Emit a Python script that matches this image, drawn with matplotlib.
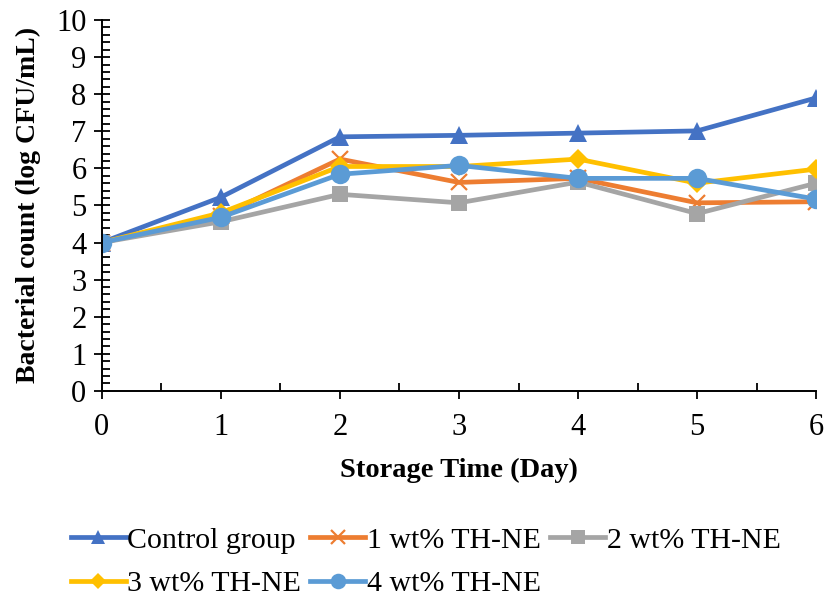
import matplotlib.pyplot as plt
from matplotlib.ticker import MultipleLocator

plt.rcParams["font.family"] = ["Liberation Serif", "DejaVu Serif"]

days = [0, 1, 2, 3, 4, 5, 6]
control = [4.0, 5.22, 6.85, 6.89, 6.95, 7.01, 7.9]
th_ne_1 = [4.0, 4.72, 6.25, 5.62, 5.73, 5.07, 5.1]
th_ne_2 = [4.0, 4.56, 5.3, 5.07, 5.63, 4.78, 5.6]
th_ne_3 = [4.0, 4.8, 6.05, 6.05, 6.25, 5.6, 5.98]
th_ne_4 = [4.0, 4.68, 5.84, 6.08, 5.73, 5.73, 5.17]

series = [
    ("Control group", control, "#4472C4", "^"),
    ("1 wt% TH-NE", th_ne_1, "#ED7D31", "x"),
    ("2 wt% TH-NE", th_ne_2, "#A5A5A5", "s"),
    ("3 wt% TH-NE", th_ne_3, "#FFC000", "D"),
    ("4 wt% TH-NE", th_ne_4, "#5B9BD5", "o"),
]

fig = plt.figure(figsize=(8.27, 6.06), dpi=100)
ax = fig.add_axes([0.123, 0.355, 0.864, 0.612])

handles = {}
for label, values, color, marker in series:
    size = {"^": 13, "x": 12, "s": 12, "D": 10, "o": 14}[marker]
    (h,) = ax.plot(days, values, color=color, linewidth=3.4, marker=marker,
                   markersize=size, markeredgewidth=1.6 if marker == "x" else 0,
                   label=label)
    handles[label] = h

ax.set_xlim(0, 6)
ax.set_ylim(0, 10)
ax.xaxis.set_major_locator(MultipleLocator(1))
ax.xaxis.set_minor_locator(MultipleLocator(0.5))
ax.yaxis.set_major_locator(MultipleLocator(1))
ax.yaxis.set_minor_locator(MultipleLocator(0.2))
ax.tick_params(axis="x", which="major", direction="out", length=6, width=1.3,
               labelsize=22, pad=10)
ax.tick_params(axis="x", which="minor", direction="in", length=6, width=1.3)
ax.tick_params(axis="y", which="major", direction="inout", length=12, width=1.3,
               labelsize=22, pad=5)
ax.tick_params(axis="y", which="minor", direction="in", length=6, width=1.3)
for side in ("top", "right"):
    ax.spines[side].set_visible(False)
for side in ("left", "bottom"):
    ax.spines[side].set_linewidth(1.4)

ax.set_xlabel("Storage Time (Day)", fontsize=20.5, fontweight="bold", labelpad=11)
ax.set_ylabel("Bacterial count (log CFU/mL)", fontsize=20, fontweight="bold",
              labelpad=11)

# legend is filled column by column, so order entries to read row-wise
order = ["Control group", "3 wt% TH-NE", "1 wt% TH-NE", "4 wt% TH-NE", "2 wt% TH-NE"]
fig.legend([handles[k] for k in order], order, ncol=3, frameon=False,
           loc="upper left", bbox_to_anchor=(0.071, 0.15), fontsize=21.5,
           handlelength=1.85, handletextpad=0.05, columnspacing=0.3,
           labelspacing=0.55, borderaxespad=0, markerscale=0.8)

fig.savefig("out.png", dpi=100)
